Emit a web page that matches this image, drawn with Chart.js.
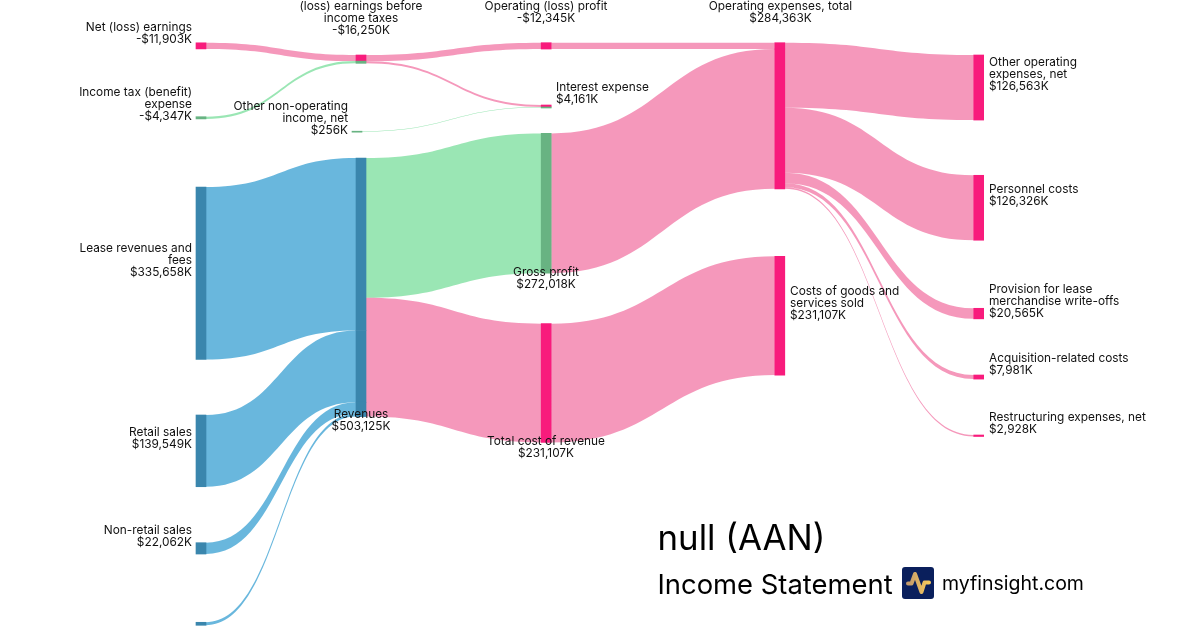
<!DOCTYPE html>
<html><head><meta charset="utf-8">
<style>html,body{margin:0;padding:0;background:#fff;width:1200px;height:630px;overflow:hidden}
#wrap{position:relative;width:1200px;height:630px}canvas{display:block}
#logo{position:absolute;left:902px;top:567px;width:32px;height:32px}</style>
<script src="https://cdn.jsdelivr.net/npm/chart.js@4"></script></head>
<body><div id="wrap"><canvas id="c" width="1200" height="630"></canvas>
<svg id="logo" viewBox="0 0 32 32"><defs><linearGradient id="g" x1="0" x2="1" y1="0" y2="0"><stop offset="0" stop-color="#c39a6b"/><stop offset="1" stop-color="#f6c95c"/></linearGradient></defs><rect width="32" height="32" rx="3" fill="#0a1f5c"/><path d="M6 16.5H9.5L13 7L19.5 25L22.5 15.5H27" fill="none" stroke="url(#g)" stroke-width="4" stroke-linecap="round" stroke-linejoin="round"/></svg>
</div>
<script>
// ---- data ($K) ----
const nodeNames = ["Net (loss) earnings","Income tax (benefit)|expense","Lease revenues and|fees","Retail sales","Non-retail sales","","(loss) earnings before|income taxes","Other non-operating|income, net","Revenues","Operating (loss) profit","Interest expense","Gross profit","Total cost of revenue","Operating expenses, total","Costs of goods and|services sold","Other operating|expenses, net","Personnel costs","Provision for lease|merchandise write-offs","Acquisition-related costs","Restructuring expenses, net"];
const nodeValues = [-11903,-4347,335658,139549,22062,5856,-16250,256,503125,-12345,4161,272018,231107,284363,231107,126563,126326,20565,7981,2928];
const flowFrom = [0,1,2,3,4,5,6,6,7,8,8,9,11,12,13,13,13,13,13];
const flowTo   = [6,6,8,8,8,8,9,10,10,11,12,13,13,14,15,16,17,18,19];
const flowValues = [11903,4347,335658,139549,22062,5856,12345,3905,256,272018,231107,12345,272018,231107,126563,126326,20565,7981,2928];
const flowKinds = ["loss","gain","rev","rev","rev","rev","loss","loss","gain","gain","loss","loss","loss","loss","loss","loss","loss","loss","loss"];
const titleText = "null (AAN)", subtitleText = "Income Statement", brandText = "myfinsight.com";
</script>
<script>
// ---- layout and style ----
// Horizontal slot of each node and where it starts on the value axis (layout only).
const columnPositions = [201,361,546.2,779.8,978.7,357];
const nodeColumns = [0,0,0,0,0,0,1,5,1,2,2,2,2,3,3,4,4,4,4,4];
const nodeStarts = [83268,227043,363813,807393,1055837,1210700,107004,255253,307393,83074,204280,259533,629767,83074,498638,107004,341051,599805,729572,846304];
const axisMaxK = 1225700;
const nodeWidth = 10;
const linkColors = {loss:"rgba(235,49,119,.5)",gain:"rgba(53,205,105,.5)",rev:"rgba(18,141,201,.63)"};
const nodeColors = {loss:"#f81b7c",gain:"#68b382",rev:"#3a86ad"};
const labelSpec = [["right",192,27],["right",192,92.7],["right",192,248],["right",192,432],["right",192,530],["right",192,0],["center",361,6],["right",348,106],["center",361,414],["center",546,6],["left",556,87],["center",546,272],["center",546,441],["center",780.5,6],["left",790,291],["left",989,62],["left",989,189],["left",989,289],["left",989,358],["left",989,417]];
const FONT = "Inter, 'Noto Sans', sans-serif";

const outUsed = nodeNames.map(()=>0), inUsed = nodeNames.map(()=>0);
const links = flowValues.map((v,i)=>{
  const s=flowFrom[i], t=flowTo[i];
  const a=nodeStarts[s]+outUsed[s]; outUsed[s]+=v;
  const b=nodeStarts[t]+inUsed[t]; inUsed[t]+=v;
  return {s,t,v,a,b,kind:flowKinds[i]};
});
// Node bars: source nodes in one piece, others split by each incoming flow.
const barData=[], barColors=[];
nodeNames.forEach((n,i)=>{
  const col=columnPositions[nodeColumns[i]];
  const incoming=links.filter(l=>l.t===i);
  if(incoming.length){incoming.forEach(l=>{barData.push({x:col,y:[l.b,l.b+l.v]});barColors.push(nodeColors[l.kind]);});}
  else{const kind=links.find(l=>l.s===i).kind;barData.push({x:col,y:[nodeStarts[i],nodeStarts[i]+outUsed[i]]});barColors.push(nodeColors[kind]);}
});
const fmt=v=>(v<0?"-":"")+"$"+Math.abs(v).toLocaleString("en-US")+"K";

const flowsPlugin={id:"flows",beforeDatasetsDraw(ch){
  const {ctx,scales:{x,y}}=ch;
  ctx.save();
  links.forEach(l=>{
    const x0=x.getPixelForValue(columnPositions[nodeColumns[l.s]])+nodeWidth/2;
    const x1=x.getPixelForValue(columnPositions[nodeColumns[l.t]])-nodeWidth/2;
    const t0=y.getPixelForValue(l.a), t1=y.getPixelForValue(l.b);
    const w=Math.max(y.getPixelForValue(l.v)-y.getPixelForValue(0),0.5);
    const mx=(x0+x1)/2;
    ctx.beginPath();ctx.moveTo(x0,t0);
    ctx.bezierCurveTo(mx,t0,mx,t1,x1,t1);
    ctx.lineTo(x1,t1+w);
    ctx.bezierCurveTo(mx,t1+w,mx,t0+w,x0,t0+w);
    ctx.closePath();
    ctx.fillStyle=linkColors[l.kind];ctx.fill();
  });
  ctx.restore();
}};
const textPlugin={id:"texts",afterDraw(ch){
  const {ctx}=ch;
  ctx.save();ctx.fillStyle="#111";ctx.textBaseline="middle";ctx.font="11.85px "+FONT;
  nodeNames.forEach((n,i)=>{
    if(!n)return;
    const [al,lx,ly]=labelSpec[i];
    ctx.textAlign=al;
    n.split("|").concat(fmt(nodeValues[i])).forEach((t,j)=>ctx.fillText(t,lx,ly+j*12));
  });
  ctx.textAlign="left";ctx.fillStyle="#000";
  ctx.font="34.8px "+FONT;ctx.fillText(titleText,657.5,539.5);
  ctx.font="27.4px "+FONT;ctx.fillText(subtitleText,657.5,585.5);
  ctx.font="19.5px "+FONT;ctx.fillText(brandText,942,584.5);
  ctx.restore();
}};
new Chart(document.getElementById("c"),{
  type:"bar",
  data:{datasets:[{data:barData,backgroundColor:barColors,borderWidth:0,barThickness:nodeWidth,minBarLength:1,grouped:false}]},
  options:{responsive:false,animation:false,layout:{padding:0},
    plugins:{legend:{display:false},tooltip:{enabled:false},title:{display:false}},
    scales:{x:{type:"linear",display:false,min:0,max:1200,offset:false,grid:{display:false}},
            y:{type:"linear",display:false,min:0,max:axisMaxK,reverse:true,grid:{display:false}}}},
  plugins:[flowsPlugin,textPlugin]
});
</script></body></html>
